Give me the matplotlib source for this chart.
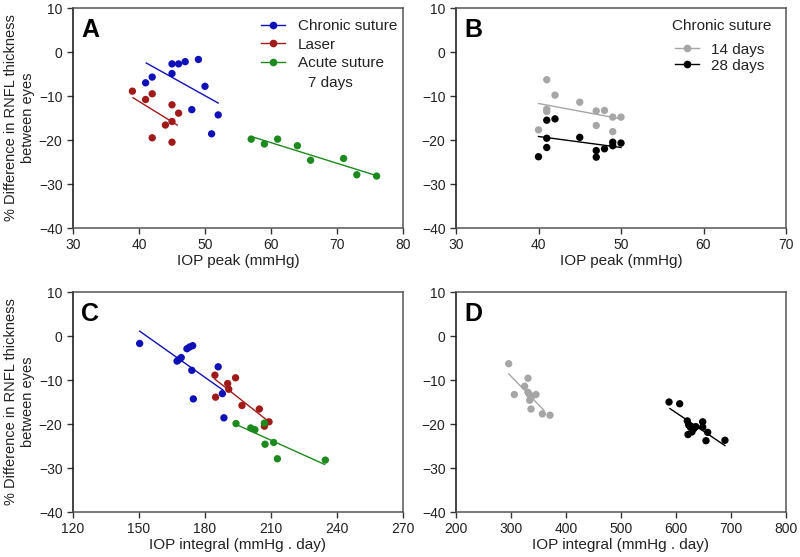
import numpy as np
import matplotlib
matplotlib.use("Agg")
import matplotlib.pyplot as plt
from matplotlib.lines import Line2D

plt.rcParams["font.family"] = ["Liberation Sans", "DejaVu Sans"]

BLUE = "#1010b8"
RED = "#a11a1a"
GREEN = "#1d8a1d"
GRAY = "#a6a6a6"
BLACK = "#000000"

# ---- panel A: IOP peak, 7 days ----
a_chronic_x = [41, 42, 45, 45, 46, 47, 49, 50, 48, 52, 51]
a_chronic_y = [-7.0, -5.7, -4.9, -2.7, -2.7, -2.2, -1.7, -7.8, -13.1, -14.3, -18.6]
a_laser_x = [39, 41, 42, 45, 46, 45, 44, 42, 45]
a_laser_y = [-8.9, -10.8, -9.5, -12.0, -13.9, -15.8, -16.6, -19.5, -20.5]
a_acute_x = [57, 59, 61, 64, 66, 71, 73, 76]
a_acute_y = [-19.8, -20.9, -19.8, -21.3, -24.6, -24.2, -27.9, -28.2]
a_fit_chronic = ([41.1, 52.0], [-2.5, -11.6])
a_fit_laser = ([39.1, 45.8], [-10.4, -16.6])
a_fit_acute = ([57.0, 76.0], [-19.2, -28.1])

# ---- panel B: IOP peak, chronic suture 14 / 28 days ----
b_14_x = [41, 42, 45, 41, 41, 47, 48, 49, 50, 47, 40, 49]
b_14_y = [-6.3, -9.8, -11.4, -13.0, -13.5, -13.4, -13.3, -14.8, -14.8, -16.7, -17.7, -18.1]
b_28_x = [41, 42, 41, 45, 41, 40, 47, 47, 48, 49, 49, 50]
b_28_y = [-15.5, -15.2, -19.6, -19.4, -21.7, -23.8, -22.4, -23.9, -22.0, -20.5, -21.3, -20.7]
b_fit_14 = ([40.0, 50.0], [-11.7, -15.2])
b_fit_28 = ([40.0, 50.0], [-19.2, -21.7])

# ---- panel C: IOP integral, 7 days ----
c_chronic_x = [150.3, 167.3, 168.0, 169.2, 171.8, 173.0, 174.4, 174.0, 186.0, 187.9, 174.7, 188.6]
c_chronic_y = [-1.7, -5.7, -5.4, -4.9, -2.9, -2.5, -2.2, -7.8, -7.0, -13.1, -14.3, -18.6]
c_laser_x = [184.5, 193.9, 190.3, 190.8, 184.8, 196.8, 204.7, 209.1, 207.0]
c_laser_y = [-8.9, -9.5, -10.8, -12.1, -13.9, -15.8, -16.6, -19.5, -20.5]
c_acute_x = [194.1, 200.8, 202.7, 207.0, 207.3, 211.2, 212.9, 234.7]
c_acute_y = [-19.9, -20.9, -21.3, -19.8, -24.6, -24.2, -27.9, -28.2]
c_fit_chronic = ([150.3, 188.2], [1.1, -12.3])
c_fit_laser = ([184.5, 208.6], [-9.8, -19.3])
c_fit_acute = ([194.1, 234.4], [-20.1, -29.2])

# ---- panel D: IOP integral, chronic suture 14 / 28 days ----
d_14_x = [295.8, 306.0, 324.8, 330.9, 330.9, 334.0, 334.0, 345.5, 336.4, 357.0, 370.9, 337.0]
d_14_y = [-6.3, -13.3, -11.4, -9.6, -12.8, -13.4, -14.6, -13.3, -16.6, -17.7, -18.0, -13.9]
d_28_x = [587.3, 606.7, 620.6, 623.0, 626.0, 632.0, 636.0, 648.5, 648.5, 621.8, 629.0, 657.6, 654.5, 689.0]
d_28_y = [-15.0, -15.4, -19.3, -20.2, -20.7, -21.1, -20.6, -19.5, -20.7, -22.4, -21.8, -21.9, -23.8, -23.7]
d_fit_14 = ([295.8, 360.0], [-8.6, -16.9])
d_fit_28 = ([589.0, 689.0], [-16.5, -24.9])

YLABEL = "% Difference in RNFL thickness\nbetween eyes"
FS = 11

fig = plt.figure(figsize=(8, 5.57), dpi=100)
W, H = 800.0, 557.0


def make_axes(x0, x1, y0, y1):
    return fig.add_axes([x0 / W, 1 - y1 / H, (x1 - x0) / W, (y1 - y0) / H])


def style(ax, xlim, xticks, letter, xlabel, ylabel=True):
    ax.set_xlim(*xlim)
    ax.set_ylim(-40, 10)
    ax.set_xticks(xticks)
    ax.set_yticks([-40, -30, -20, -10, 0, 10])
    for s in ["top", "right", "bottom"]:
        ax.spines[s].set_color("#555555")
        ax.spines[s].set_linewidth(1.1)
    ax.spines["left"].set_color("#111111")
    ax.spines["left"].set_linewidth(1.1)
    ax.tick_params(direction="out", length=4, width=1, colors="#333333",
                   labelsize=10, labelcolor="#222222")
    ax.set_xlabel(xlabel, fontsize=FS, color="#222222", labelpad=1)
    if ylabel:
        ax.set_ylabel(YLABEL, fontsize=10.5, color="#222222", labelpad=3)
    ax.text(0.025, 0.955, letter, transform=ax.transAxes, fontsize=18,
            fontweight="bold", va="top", ha="left")


def dots(ax, x, y, c, fit):
    ax.plot(fit[0], fit[1], color=c, lw=1.0, zorder=2)
    ax.scatter(x, y, s=28, color=c, edgecolors="none", zorder=3)


axA = make_axes(73, 403, 8, 228)
dots(axA, a_chronic_x, a_chronic_y, BLUE, a_fit_chronic)
dots(axA, a_laser_x, a_laser_y, RED, a_fit_laser)
dots(axA, a_acute_x, a_acute_y, GREEN, a_fit_acute)
style(axA, (30, 80), [30, 40, 50, 60, 70, 80], "A", "IOP peak (mmHg)")
hA = [Line2D([], [], color=c, marker="o", ms=4.5, lw=1) for c in (BLUE, RED, GREEN)]
axA.legend(hA, ["Chronic suture", "Laser", "Acute suture"], loc="upper left",
           bbox_to_anchor=(0.54, 0.995), frameon=False, fontsize=FS,
           handlelength=1.55, handletextpad=0.85, labelspacing=0.3,
           borderaxespad=0.25, labelcolor="#222222")
axA.text(0.78, 0.66, "7 days", transform=axA.transAxes, fontsize=FS,
         color="#222222", ha="center", va="center")

axB = make_axes(456, 786, 8, 228)
dots(axB, b_14_x, b_14_y, GRAY, b_fit_14)
dots(axB, b_28_x, b_28_y, BLACK, b_fit_28)
style(axB, (30, 70), [30, 40, 50, 60, 70], "B", "IOP peak (mmHg)", ylabel=False)
hB = [Line2D([], [], color=c, marker="o", ms=4.5, lw=1) for c in (GRAY, BLACK)]
axB.text(0.955, 0.92, "Chronic suture", transform=axB.transAxes, fontsize=FS,
         color="#222222", ha="right", va="center")
axB.legend(hB, ["14 days", "28 days"], loc="upper left",
           bbox_to_anchor=(0.645, 0.87), frameon=False, fontsize=FS,
           handlelength=1.6, handletextpad=0.75, labelspacing=0.12,
           borderaxespad=0.0, labelcolor="#222222")

axC = make_axes(73, 403, 292, 512)
dots(axC, c_chronic_x, c_chronic_y, BLUE, c_fit_chronic)
dots(axC, c_laser_x, c_laser_y, RED, c_fit_laser)
dots(axC, c_acute_x, c_acute_y, GREEN, c_fit_acute)
style(axC, (120, 270), [120, 150, 180, 210, 240, 270], "C", "IOP integral (mmHg . day)")

axD = make_axes(456, 786, 292, 512)
dots(axD, d_14_x, d_14_y, GRAY, d_fit_14)
dots(axD, d_28_x, d_28_y, BLACK, d_fit_28)
style(axD, (200, 800), [200, 300, 400, 500, 600, 700, 800], "D",
      "IOP integral (mmHg . day)", ylabel=False)

fig.savefig("out.png", dpi=100)
